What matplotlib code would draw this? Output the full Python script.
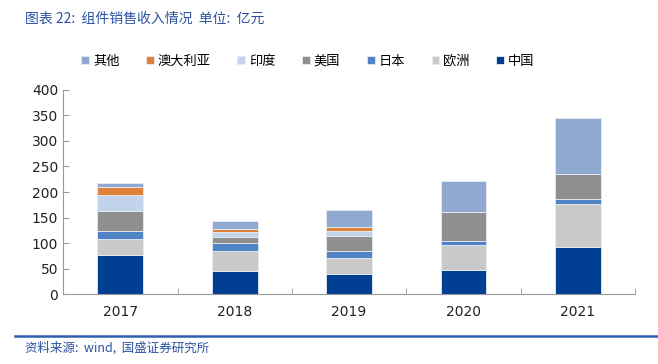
import numpy as np
import matplotlib.pyplot as plt

plt.rcParams['font.family'] = ['Noto Sans CJK SC', 'DejaVu Sans']

years = ['2017', '2018', '2019', '2020', '2021']
series_names = ['中国', '欧洲', '日本', '美国', '印度', '澳大利亚', '其他']
china = [76, 46, 39, 47, 93]
europe = [32, 39, 32, 50, 84]
japan = [16, 15, 13, 7, 10]
usa = [39, 12, 30, 57, 48]
india = [31, 10, 10, 0, 0]
australia = [15, 5, 7, 0, 0]
other = [8, 16, 33, 60, 110]
colors = ['#003f91', '#c9c9c9', '#4f83c6', '#8f8f8f', '#c2d4eb', '#e0813a', '#8fa9d1']

fig = plt.figure(figsize=(6.58, 3.64), dpi=100)
ax = fig.add_axes([0.096, 0.192, 0.869, 0.561])

x = np.arange(len(years))
bottom = np.zeros(len(years))
handles = []
for name, vals, c in zip(series_names, [china, europe, japan, usa, india, australia, other], colors):
    b = ax.bar(x, vals, 0.4, bottom=bottom, color=c, edgecolor='#e6ecf5', linewidth=0.6, label=name)
    handles.append(b)
    bottom += np.array(vals)

ax.set_xlim(-0.5, 4.5)
ax.set_ylim(0, 400)
ax.set_yticks(range(0, 401, 50))
ax.set_xticks(x)
ax.set_xticklabels(years)
ax.set_xticks(np.arange(-0.5, 5, 1), minor=True)
ax.tick_params(axis='x', which='major', length=0, pad=8, labelsize=10, colors='#222222')
ax.tick_params(axis='x', which='minor', direction='in', length=4, color='#999999')
ax.tick_params(axis='y', direction='in', length=4, color='#999999', labelsize=10, labelcolor='#222222')
for lbl in ax.get_xticklabels() + ax.get_yticklabels():
    lbl.set_family('DejaVu Sans')
for s in ['top', 'right']:
    ax.spines[s].set_visible(False)
for s in ['left', 'bottom']:
    ax.spines[s].set_color('#999999')

fig.legend(handles[::-1], series_names[::-1], loc='center', bbox_to_anchor=(0.468, 0.832),
           ncol=7, frameon=False, fontsize=9.5, handlelength=0.6, handleheight=0.6,
           handletextpad=0.3, columnspacing=2.0)

fig.text(0.038, 0.948, '图表 22:  组件销售收入情况  单位:  亿元', fontsize=10, color='#2a52a0',
         style='italic', va='center')
fig.add_artist(plt.Line2D([0.023, 1.0], [0.077, 0.077], color='#2e5fae', linewidth=1.8))
fig.text(0.038, 0.045, '资料来源:  wind,  国盛证券研究所', fontsize=9, color='#2a52a0',
         style='italic', va='center')

fig.savefig('out.png', dpi=100)
